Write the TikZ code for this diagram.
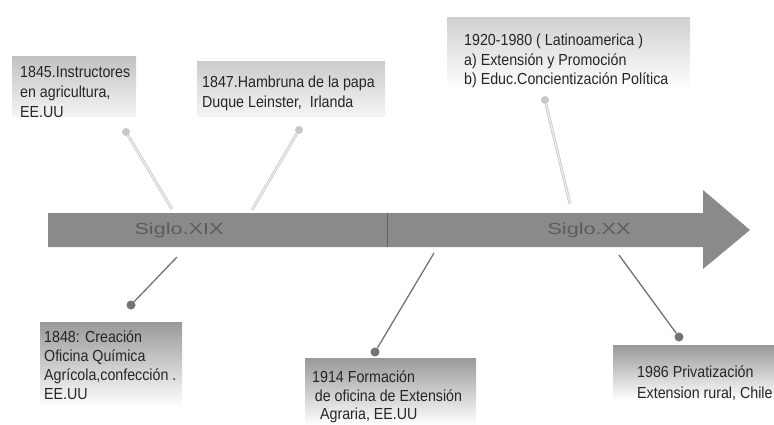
\documentclass[tikz,border=0pt]{standalone}
\usepackage{fontspec}
\setmainfont{Liberation Sans}
\newfontfamily\boxfont{Liberation Sans}[FakeStretch=0.89]
\begin{document}
\begin{tikzpicture}[x=1pt,y=-1pt,
  evbox/.style={anchor=north west, align=left, text=black!85,
    font=\boxfont\fontsize{16}{20}\selectfont, inner sep=0pt},
  topshade/.style={top color=black!24, bottom color=black!4, draw=none},
  botshade/.style={top color=black!40, bottom color=white, draw=none},
  topline/.style={draw=black!22, double=black!6, double distance=1.2pt, line width=0.8pt},
  botline/.style={draw=black!55, line width=1.3pt},
  topdot/.style={circle, fill=black!22, minimum size=8pt, inner sep=0pt},
  botdot/.style={circle, fill=black!55, minimum size=9pt, inner sep=0pt},
  siglo/.style={text=black!64, font=\fontsize{16}{18}\selectfont}
  ]
\useasboundingbox (0,0) rectangle (774,425);
% arrow
\fill[black!46] (48,213) -- (703,213) -- (703,190) -- (750,230) -- (703,269) -- (703,247) -- (48,247) -- cycle;
\draw[black!62, line width=0.8pt] (387,213) -- (387,247);
\node[siglo] (s19) at (179,230) {\scalebox{1.35}[1]{Siglo.XIX}};
\node[siglo] (s20) at (589,230) {\scalebox{1.35}[1]{Siglo.XX}};
% top boxes
\shade[topshade] (12,57) rectangle (136,117);
\node[evbox] (t1) at (20,66) {1845.Instructores\\en agricultura,\\EE.UU};
\shade[topshade, top color=black!20] (197,62) rectangle (385,117);
\node[evbox] (t2) at (202,76) {1847.Hambruna de la papa\\Duque Leinster,\ \ Irlanda};
\shade[topshade, top color=black!18, bottom color=white] (447,18) rectangle (690,90);
\node[evbox, font=\boxfont\fontsize{16}{19.5}\selectfont] (t3) at (464,34) {1920-1980 ( Latinoamerica )\\a) Extensión y Promoción\\b) Educ.Concientización Política};
% bottom boxes
\shade[botshade] (40,322) rectangle (182,407);
\node[evbox, font=\boxfont\fontsize{16}{19}\selectfont] (b1) at (44,331) {1848: Creación\\Oficina Química\\Agrícola,confección .\\EE.UU};
\shade[botshade] (305,358) rectangle (476,425);
\node[evbox, font=\boxfont\fontsize{16}{18.5}\selectfont] (b2) at (312,371) {1914 Formación\\\,de oficina de Extensión\\\ \ Agraria, EE.UU};
\shade[botshade] (613,345) rectangle (774,400);
\node[evbox, font=\boxfont\fontsize{16}{21}\selectfont] (b3) at (637,366) {1986 Privatización\\Extension rural, Chile};
% connector points on the bar
\coordinate (c1) at (172,209);
\coordinate (c2) at (252,210);
\coordinate (c3) at (570,204);
\coordinate (c4) at (177,257);
\coordinate (c5) at (434,253);
\coordinate (c6) at (619,255);
% dots
\node[topdot] (d1) at (126,132) {};
\node[topdot] (d2) at (299,130) {};
\node[topdot] (d3) at (545,100) {};
\node[botdot] (d4) at (131,305) {};
\node[botdot] (d5) at (375,352) {};
\node[botdot] (d6) at (679,337) {};
\draw[topline] (d1) -- (c1);
\draw[topline] (d2) -- (c2);
\draw[topline] (d3) -- (c3);
\draw[botline] (d4) -- (c4);
\draw[botline] (d5) -- (c5);
\draw[botline] (d6) -- (c6);
\end{tikzpicture}
\end{document}
